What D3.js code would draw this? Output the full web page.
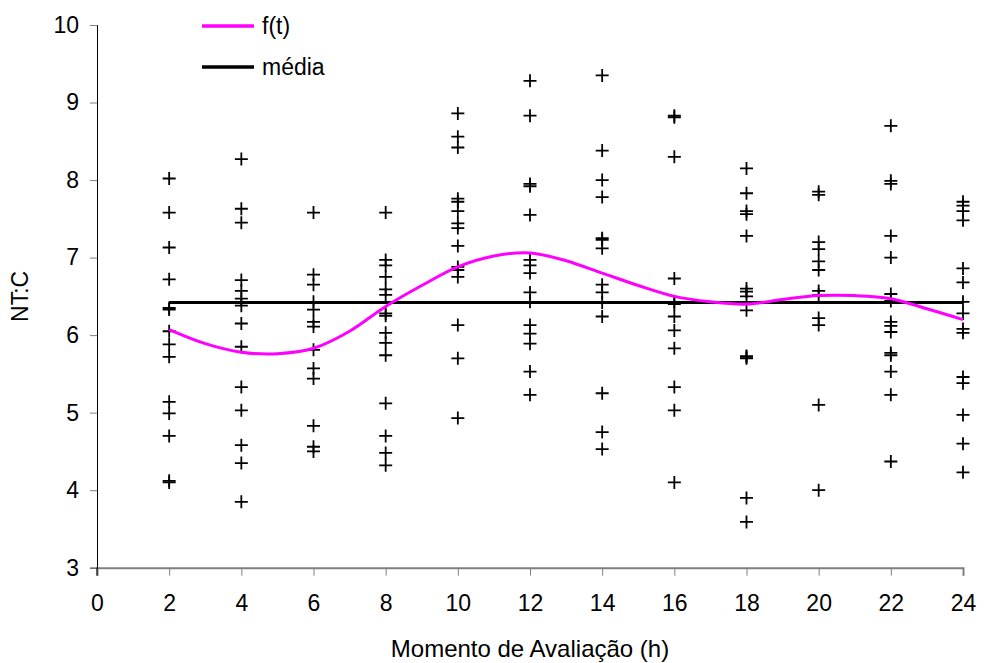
<!DOCTYPE html>
<html><head><meta charset="utf-8">
<script src="https://cdn.jsdelivr.net/npm/d3@7"></script>
<style>body{margin:0;background:#fff}svg{display:block}text{font-family:"Liberation Sans",Arial,sans-serif}</style>
</head><body>
<script>
const hours = [2,4,6,8,10,12,14,16,18,20,22,24];
const obs2  = [8.02,7.58,7.13,6.72,6.35,6.33,6.05,5.88,5.72,5.14,4.99,4.70,4.12,4.10];
const obs4  = [8.27,7.63,7.45,6.71,6.57,6.47,6.38,6.15,5.85,5.33,5.03,4.58,4.35,3.85];
const obs6  = [7.58,6.78,6.65,6.43,6.33,6.17,6.11,5.81,5.57,5.44,4.83,4.56,4.50];
const obs8  = [7.58,6.97,6.90,6.75,6.59,6.52,6.28,6.25,6.03,5.90,5.74,5.12,4.70,4.48,4.32];
const obs10 = [8.86,8.56,8.42,7.76,7.72,7.60,7.44,7.38,7.15,6.88,6.84,6.75,6.13,5.70,4.93];
const obs12 = [9.28,8.83,7.95,7.92,7.55,6.97,6.90,6.80,6.55,6.43,6.13,6.02,5.89,5.53,5.23];
const obs14 = [9.35,8.38,8.00,7.78,7.25,7.23,7.12,6.65,6.55,6.42,6.24,5.25,4.75,4.53];
const obs16 = [8.83,8.81,8.30,6.73,6.43,6.40,6.24,6.06,5.83,5.33,5.03,4.10];
const obs18 = [8.15,7.83,7.60,7.56,7.28,6.60,6.56,6.50,6.32,5.73,5.72,5.70,3.90,3.59];
const obs20 = [7.85,7.81,7.20,7.11,6.95,6.84,6.57,6.52,6.22,6.13,5.10,4.00];
const obs22 = [8.70,7.99,7.95,7.28,7.00,6.53,6.44,6.17,6.12,6.04,5.77,5.74,5.53,5.23,4.37];
const obs24 = [7.72,7.67,7.60,7.48,6.86,6.68,6.43,6.28,6.08,6.03,5.46,5.38,4.97,4.60,4.23];
const observations = [obs2,obs4,obs6,obs8,obs10,obs12,obs14,obs16,obs18,obs20,obs22,obs24];

const fT = [2,3,4,5,6,7,8,9,10,11,12,13,14,15,16,17,18,19,20,21,22,23,24];
const fV = [6.07,5.89,5.78,5.76,5.83,6.05,6.37,6.64,6.88,7.02,7.06,6.96,6.80,6.64,6.50,6.43,6.40,6.46,6.51,6.51,6.47,6.34,6.20];
const mediaValue = 6.42;
const mediaRange = [2,24];
const xTicks = [0,2,4,6,8,10,12,14,16,18,20,22,24];
const yTicks = [3,4,5,6,7,8,9,10];
const legendLabels = ["f(t)","média"];

const W = 984, H = 663;
const FS = 23;
const svg = d3.select("body").append("svg").attr("width",W).attr("height",H);
const x = d3.scaleLinear().domain([0,24]).range([97,963]);
const y = d3.scaleLinear().domain([3,10]).range([567.7,25]);

// axes
const xAxis = svg.append("g").attr("transform",`translate(0,${y(3)})`)
  .call(d3.axisBottom(x).tickValues(xTicks).tickSize(8).tickPadding(19).tickFormat(d3.format("d")));
xAxis.select(".domain").attr("stroke","#808080").attr("stroke-width",2);
xAxis.selectAll(".tick line").attr("stroke","#808080");
xAxis.selectAll("text").attr("font-size",FS).attr("fill","#000").attr("font-family","Liberation Sans, Arial, sans-serif");

const yAxis = svg.append("g").attr("transform",`translate(${x(0)},0)`)
  .call(d3.axisLeft(y).tickValues(yTicks).tickSize(7).tickPadding(11).tickFormat(d3.format("d")));
yAxis.select(".domain").attr("stroke","#000").attr("stroke-width",1);
yAxis.selectAll(".tick line").attr("stroke","#808080");
yAxis.selectAll("text").attr("font-size",FS).attr("fill","#000").attr("font-family","Liberation Sans, Arial, sans-serif");
svg.append("line").attr("x1",x(0)).attr("x2",x(0)).attr("y1",y(3)).attr("y2",y(3)+8).attr("stroke","#000");

// markers
const pts = [];
hours.forEach((h,i)=>observations[i].forEach(v=>pts.push([h,v])));
const s = 6.5;
svg.append("g").selectAll("path").data(pts).join("path")
  .attr("d",d=>{const cx=x(d[0]), cy=y(d[1]);return `M${cx-s},${cy}H${cx+s}M${cx},${cy-s}V${cy+s}`;})
  .attr("stroke","#000").attr("stroke-width",1.8).attr("fill","none");

// media line
svg.append("line").attr("x1",x(mediaRange[0])).attr("x2",x(mediaRange[1]))
  .attr("y1",y(mediaValue)).attr("y2",y(mediaValue)).attr("stroke","#000").attr("stroke-width",3);

// f(t)
const line = d3.line().x((d,i)=>x(fT[i])).y(d=>y(d)).curve(d3.curveCatmullRom);
svg.append("path").datum(fV).attr("d",line).attr("fill","none").attr("stroke","#FF00FF").attr("stroke-width",3);

// legend
const leg = svg.append("g");
const legColors = ["#FF00FF","#000"];
legendLabels.forEach((lab,i)=>{
  const ly = 26 + i*41;
  leg.append("line").attr("x1",202).attr("x2",254).attr("y1",ly).attr("y2",ly).attr("stroke",legColors[i]).attr("stroke-width",3.5);
  leg.append("text").attr("x",262).attr("y",ly+8).attr("font-size",FS).text(lab);
});

// axis titles
svg.append("text").attr("x",530).attr("y",657).attr("text-anchor","middle").attr("font-size",24).text("Momento de Avaliação (h)");
svg.append("text").attr("transform",`translate(28,${(y(3)+y(10))/2}) rotate(-90)`).attr("text-anchor","middle").attr("font-size",FS).text("NT:C");
</script>
</body></html>
